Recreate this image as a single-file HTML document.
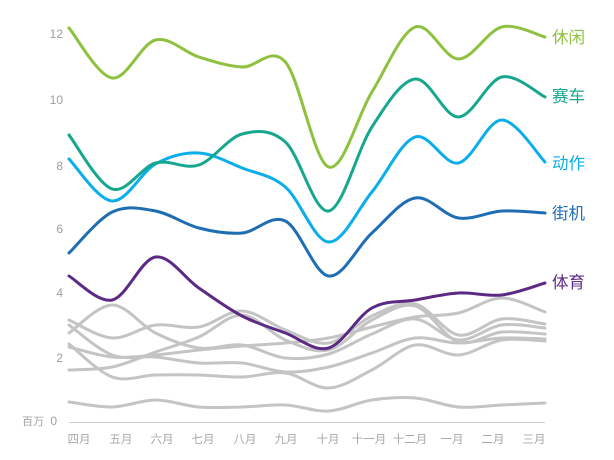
<!DOCTYPE html>
<html>
<head>
<meta charset="utf-8">
<style>
html,body{margin:0;padding:0;background:#fff;}
svg{display:block;}
.ax{font-family:"Liberation Sans",sans-serif;font-size:12px;fill:#9e9e9e;}
.xl{font-family:"Liberation Sans","Noto Sans CJK SC",sans-serif;font-size:11.5px;fill:#a8a8a8;}
.lb{font-family:"Liberation Sans","Noto Sans CJK SC",sans-serif;font-size:16.5px;}
</style>
</head>
<body>
<svg id="chart" width="614" height="460" viewBox="0 0 614 460" xmlns="http://www.w3.org/2000/svg">
  <g class="ax" text-anchor="end">
    <text x="63" y="38">12</text>
    <text x="63" y="104">10</text>
    <text x="63" y="170">8</text>
    <text x="63" y="233">6</text>
    <text x="63" y="297">4</text>
    <text x="63" y="362">2</text>
    <text x="57" y="425">0</text>
  </g>
  <text x="22" y="425" class="xl" style="font-size:11px;fill:#a0a0a0">百万</text>
  <line x1="69" y1="422.5" x2="545" y2="422.5" stroke="#cfcfcf" stroke-width="1"/>
  <g class="xl" text-anchor="middle">
    <text x="79" y="443">四月</text>
    <text x="121" y="443">五月</text>
    <text x="162" y="443">六月</text>
    <text x="203" y="443">七月</text>
    <text x="245" y="443">八月</text>
    <text x="286" y="443">九月</text>
    <text x="328" y="443">十月</text>
    <text x="369" y="443">十一月</text>
    <text x="410" y="443">十二月</text>
    <text x="452" y="443">一月</text>
    <text x="493" y="443">二月</text>
    <text x="534" y="443">三月</text>
  </g>
  <g id="lines" fill="none" stroke-linecap="round" stroke-linejoin="round"></g>
  <g class="lb">
    <text x="552" y="43" fill="#8dc13f">休闲</text>
    <text x="552" y="102" fill="#17a78e">赛车</text>
    <text x="552" y="169" fill="#0aaeea">动作</text>
    <text x="552" y="219" fill="#1f6db3">街机</text>
    <text x="552" y="288" fill="#5c2a85">体育</text>
  </g>
</svg>
<script>
(function(){
  var xs=[];for(var i=0;i<12;i++)xs.push(69+i*43.2727);
  var series=[
    {c:"#c4c4c4",y:[320,338,325,327,311,330,343,316,304,335,319,324]},
    {c:"#c4c4c4",y:[370,367,352,337,315,340,350,320,306,342,332,334]},
    {c:"#c4c4c4",y:[333,305,333,348,345,358,354,334,319,340,325,328]},
    {c:"#c4c4c4",y:[347,357,355,350,346,343,338,327,317,313,298,312]},
    {c:"#c4c4c4",y:[325,355,357,363,363,372,367,353,338,343,338,339]},
    {c:"#c4c4c4",y:[344,377,375,375,377,373,388,370,345,355,340,341]},
    {c:"#c4c4c4",y:[402,407,400,407,407,405,411,400,398,407,405,403]},
    {c:"#5c2a85",y:[276,300,257,288,316,333,348,308,300,293,295,283]},
    {c:"#1f6db3",y:[253,212,211,228,233,221,276,233,198,218,211,213]},
    {c:"#0aaeea",y:[159,201,164,153,168,187,242,192,137,163,120,162]},
    {c:"#17a78e",y:[135,189,163,165,134,142,211,127,79,117,77,97]},
    {c:"#8dc13f",y:[28,78,40,57,67,62,167,92,27,59,27,37]}
  ];
  var g=document.getElementById("lines");
  series.forEach(function(s){
    var p=xs.map(function(x,i){return [x,s.y[i]];});
    var n=p.length, d="M"+p[0][0].toFixed(2)+","+p[0][1].toFixed(2);
    for(var i=0;i<n-1;i++){
      var p0=p[i>0?i-1:i],p1=p[i],p2=p[i+1],p3=p[i+2<n?i+2:i+1];
      var c1x=p1[0]+(p2[0]-p0[0])/6,c1y=p1[1]+(p2[1]-p0[1])/6;
      var c2x=p2[0]-(p3[0]-p1[0])/6,c2y=p2[1]-(p3[1]-p1[1])/6;
      d+="C"+c1x.toFixed(2)+","+c1y.toFixed(2)+" "+c2x.toFixed(2)+","+c2y.toFixed(2)+" "+p2[0].toFixed(2)+","+p2[1].toFixed(2);
    }
    var path=document.createElementNS("http://www.w3.org/2000/svg","path");
    path.setAttribute("d",d);
    path.setAttribute("stroke",s.c);
    path.setAttribute("stroke-width","3");
    g.appendChild(path);
  });
})();
</script>
</body>
</html>
